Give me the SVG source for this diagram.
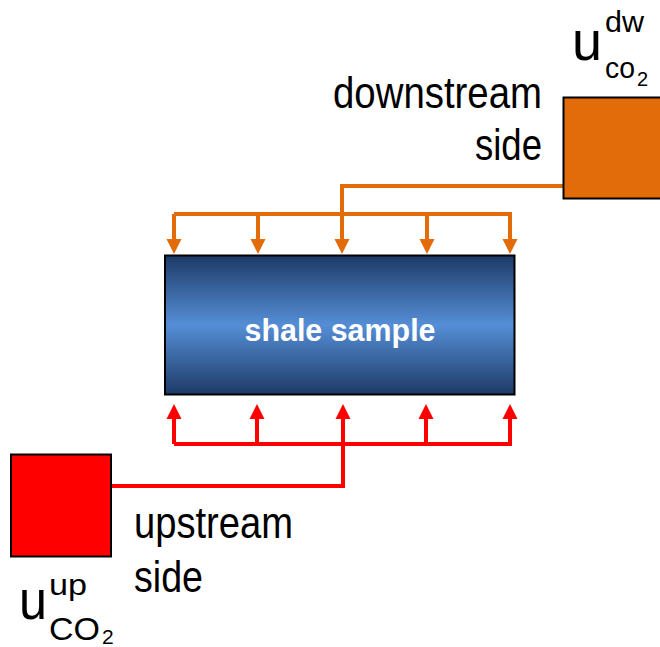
<svg xmlns="http://www.w3.org/2000/svg" width="660" height="647" viewBox="0 0 660 647">
<style>
.lbl{font-family:"Liberation Sans",Arial,sans-serif;fill:#000;}
.or{fill:none;stroke:#e36c0a;stroke-width:4;}
.rd{fill:none;stroke:#ff0000;stroke-width:4;}
</style>
<defs>
<linearGradient id="g" x1="0" y1="0" x2="0" y2="1">
<stop offset="0" stop-color="#1d3a66"/>
<stop offset="0.5" stop-color="#558ed6"/>
<stop offset="1" stop-color="#1d3a66"/>
</linearGradient>
<marker id="ao" markerUnits="userSpaceOnUse" markerWidth="16" markerHeight="16" refX="0" refY="7.5" orient="auto" viewBox="0 0 16 15">
<path d="M0,0 L15,7.5 L0,15 z" fill="#e36c0a"/>
</marker>
<marker id="ar" markerUnits="userSpaceOnUse" markerWidth="16" markerHeight="16" refX="0" refY="7.5" orient="auto" viewBox="0 0 16 15">
<path d="M0,0 L15,7.5 L0,15 z" fill="#ff0000"/>
</marker>
</defs>
<rect width="660" height="647" fill="#fff"/>
<g id="connectors">
<path class="or" d="M563,186 H342 V239" marker-end="url(#ao)"/>
<path class="or" d="M174,214 H510 V239" marker-end="url(#ao)"/>
<path class="or" d="M174,214 V239" marker-end="url(#ao)"/>
<path class="or" d="M258,214 V239" marker-end="url(#ao)"/>
<path class="or" d="M427,214 V239" marker-end="url(#ao)"/>
<path class="rd" d="M111,486 H343 V419" marker-end="url(#ar)"/>
<path class="rd" d="M174,444 H510 V419" marker-end="url(#ar)"/>
<path class="rd" d="M174,444 V419" marker-end="url(#ar)"/>
<path class="rd" d="M257,444 V419" marker-end="url(#ar)"/>
<path class="rd" d="M426,444 V419" marker-end="url(#ar)"/>
</g>
<g id="shale">
<rect x="165" y="255.5" width="349.5" height="139" fill="url(#g)" stroke="#000" stroke-width="2"/>
<text x="340" y="341" text-anchor="middle" font-family="Liberation Sans,Arial,sans-serif" font-weight="bold" font-size="31" textLength="191" lengthAdjust="spacingAndGlyphs" fill="#fff">shale sample</text>
</g>
<g id="downstream">
<rect x="563.5" y="97.5" width="100" height="101" fill="#e36c0a" stroke="#000" stroke-width="2"/>
<text class="lbl" x="333" y="108" font-size="44" textLength="209" lengthAdjust="spacingAndGlyphs">downstream</text>
<text class="lbl" x="475" y="160" font-size="44" textLength="67" lengthAdjust="spacingAndGlyphs">side</text>
<text class="lbl" x="572" y="60" font-size="55" textLength="30" lengthAdjust="spacingAndGlyphs">u</text>
<text class="lbl" x="605" y="32" font-size="30" textLength="39" lengthAdjust="spacingAndGlyphs">dw</text>
<text class="lbl" x="605" y="78" font-size="30" textLength="30" lengthAdjust="spacingAndGlyphs">co</text>
<text class="lbl" x="637" y="86" font-size="20">2</text>
</g>
<g id="upstream">
<rect x="11" y="454.5" width="100" height="102" fill="#ff0000" stroke="#000" stroke-width="2"/>
<text class="lbl" x="134" y="538" font-size="44" textLength="159" lengthAdjust="spacingAndGlyphs">upstream</text>
<text class="lbl" x="134" y="592" font-size="44" textLength="69" lengthAdjust="spacingAndGlyphs">side</text>
<text class="lbl" x="19" y="619" font-size="55" textLength="28" lengthAdjust="spacingAndGlyphs">u</text>
<text class="lbl" x="49" y="595" font-size="30" textLength="38" lengthAdjust="spacingAndGlyphs">up</text>
<text class="lbl" x="49" y="640" font-size="31" textLength="51" lengthAdjust="spacingAndGlyphs">CO</text>
<text class="lbl" x="102" y="644" font-size="21">2</text>
</g>
</svg>
